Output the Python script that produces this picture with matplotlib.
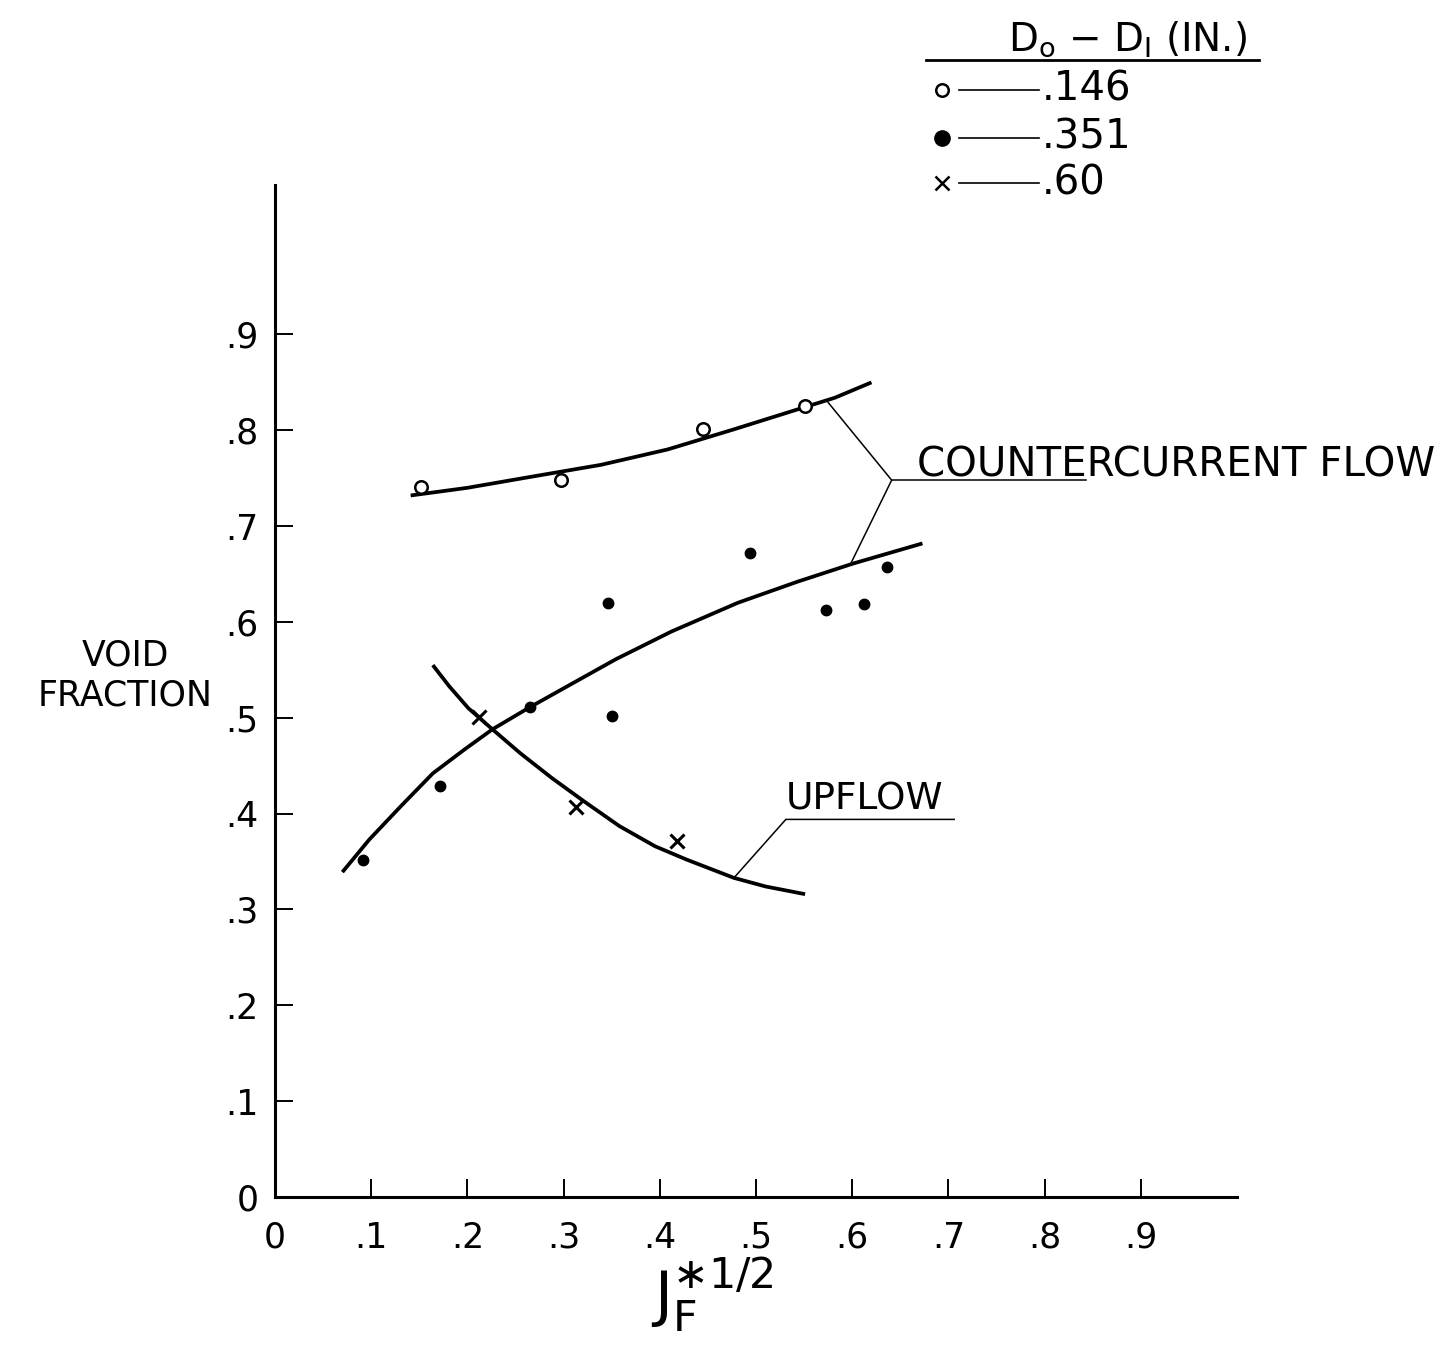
import numpy as np
import matplotlib
matplotlib.use("Agg")
import matplotlib.pyplot as plt

# Messepunkter, aflæst: (J_F*^1/2, void fraction) for hver spaltebredde D_o - D_i
x_146 = [0.152, 0.297, 0.445, 0.551]
y_146 = [0.741, 0.748, 0.801, 0.825]

x_351 = [0.091, 0.172, 0.265, 0.346, 0.350, 0.494, 0.573, 0.612, 0.636]
y_351 = [0.352, 0.429, 0.511, 0.620, 0.502, 0.672, 0.612, 0.619, 0.657]

x_60 = [0.212, 0.313, 0.418]
y_60 = [0.501, 0.407, 0.371]

# Håndtegnede kurver (punkter langs kurverne)
cc_top_x = [0.141, 0.200, 0.269, 0.339, 0.408, 0.477, 0.547, 0.582, 0.620]
cc_top_y = [0.732, 0.740, 0.752, 0.764, 0.780, 0.801, 0.823, 0.834, 0.850]

cc_low_x = [0.070, 0.098, 0.131, 0.164, 0.197, 0.226, 0.263, 0.304, 0.354,
            0.412, 0.481, 0.543, 0.601, 0.673]
cc_low_y = [0.339, 0.373, 0.408, 0.442, 0.467, 0.488, 0.510, 0.533, 0.561,
            0.590, 0.620, 0.642, 0.661, 0.682]

up_x = [0.164, 0.181, 0.201, 0.226, 0.255, 0.288, 0.321, 0.358, 0.395,
        0.428, 0.477, 0.510, 0.551]
up_y = [0.555, 0.533, 0.510, 0.488, 0.463, 0.437, 0.413, 0.387, 0.366,
        0.352, 0.333, 0.324, 0.316]

tick_vals = [0, 0.1, 0.2, 0.3, 0.4, 0.5, 0.6, 0.7, 0.8, 0.9]
tick_labels = ["0", ".1", ".2", ".3", ".4", ".5", ".6", ".7", ".8", ".9"]

legend_labels = [".146", ".351", ".60"]

plt.rcParams['font.family'] = ['DejaVu Sans']
plt.rcParams['mathtext.fontset'] = 'dejavusans'

fig = plt.figure(figsize=(14.56, 13.59), dpi=100)
ax = fig.add_axes([0.1889, 0.1192, 0.6607, 0.7447])
ax.set_xlim(0, 1.0)
ax.set_ylim(0, 1.056)

for s in ["top", "right"]:
    ax.spines[s].set_visible(False)
for s in ["left", "bottom"]:
    ax.spines[s].set_linewidth(2.2)

ax.set_xticks(tick_vals)
ax.set_xticklabels(tick_labels)
ax.set_yticks(tick_vals)
ax.set_yticklabels(tick_labels)
ax.tick_params(axis="both", direction="in", length=13, width=1.4, labelsize=25)
ax.tick_params(axis="x", pad=17)
ax.tick_params(axis="y", pad=12)

lw = 2.7
ax.plot(cc_top_x, cc_top_y, color="black", lw=lw, solid_capstyle="butt", solid_joinstyle="round")
ax.plot(cc_low_x, cc_low_y, color="black", lw=lw, solid_capstyle="butt", solid_joinstyle="round")
ax.plot(up_x, up_y, color="black", lw=lw, solid_capstyle="butt", solid_joinstyle="round")

ax.plot(x_146, y_146, "o", ms=9, mfc="white", mec="black", mew=1.8)
ax.plot(x_351, y_351, "o", ms=7.5, color="black")
ax.plot(x_60, y_60, "x", ms=10, color="black", mew=2.2)

# henvisningslinjer til teksterne
thin = 1.1
ax.plot([0.575, 0.641, 0.599], [0.829, 0.748, 0.662], color="black", lw=thin)
ax.plot([0.641, 0.843], [0.748, 0.748], color="black", lw=thin)
ax.text(0.667, 0.763, "COUNTERCURRENT FLOW", fontsize=29, ha="left", va="center")

ax.plot([0.477, 0.531, 0.706], [0.333, 0.394, 0.394], color="black", lw=thin)
ax.text(0.531, 0.415, "UPFLOW", fontsize=27, ha="left", va="center")

ax.text(-0.156, 0.544, "VOID\nFRACTION", fontsize=25, ha="center", va="center",
        linespacing=1.2)
ax.text(0.455, -0.102, r"$\mathregular{J_F^{\ast 1/2}}$", fontsize=44, ha="center", va="center")

# forklaring øverst til højre
ax.text(0.886, 1.208, r"D$_\mathregular{o}$ $-$ D$_\mathregular{I}$ (IN.)", fontsize=28,
        ha="center", va="center", clip_on=False)
ax.plot([0.677, 1.023], [1.186, 1.186], color="black", lw=2.0, clip_on=False)
rows_y = [1.1555, 1.105, 1.058]
styles = [dict(marker="o", ms=9, mfc="white", mec="black", mew=1.8),
          dict(marker="o", ms=11, color="black"),
          dict(marker="x", ms=10, color="black", mew=1.8)]
for yy, lab, st in zip(rows_y, legend_labels, styles):
    ax.plot([0.693], [yy], ls="none", clip_on=False, **st)
    ax.plot([0.711, 0.794], [yy, yy], color="black", lw=1.2, clip_on=False)
    ax.text(0.797, yy, lab, fontsize=29, ha="left", va="center", clip_on=False)

fig.savefig("out.png", dpi=100)
